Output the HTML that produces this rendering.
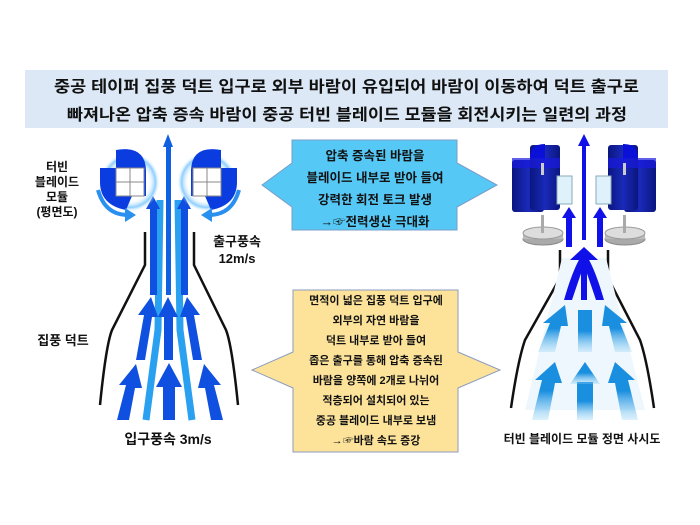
<!DOCTYPE html>
<html><head><meta charset="utf-8"><style>
body{margin:0;background:#fff;width:700px;height:525px;overflow:hidden;font-family:"Liberation Sans","Noto Sans CJK KR",sans-serif;}
svg{position:absolute;left:0;top:0}
text{font-family:"Liberation Sans","Noto Sans CJK KR",sans-serif;font-weight:bold;fill:#111}
</style></head><body>
<svg width="700" height="525" viewBox="0 0 700 525">
<defs>
<linearGradient id="fade" x1="0" y1="1" x2="0" y2="0"><stop offset="0" stop-color="#8fd0f5" stop-opacity="0.3"/><stop offset="0.5" stop-color="#1a8fe0"/><stop offset="1" stop-color="#1a8fe0"/></linearGradient>
<linearGradient id="cyl" x1="0" y1="0" x2="1" y2="0"><stop offset="0" stop-color="#0a1680"/><stop offset="0.5" stop-color="#1a2ab8"/><stop offset="1" stop-color="#0a1680"/></linearGradient>
<radialGradient id="glow"><stop offset="0.6" stop-color="#fff" stop-opacity="0"/><stop offset="0.85" stop-color="#5ab8ff" stop-opacity="0.7"/><stop offset="1" stop-color="#fff" stop-opacity="0"/></radialGradient>
</defs>
<!-- header -->
<rect x="25" y="70" width="643" height="58" fill="#dce8f5"/>
<text x="54" y="92" font-size="16" textLength="585" lengthAdjust="spacingAndGlyphs">중공 테이퍼 집풍 덕트 입구로 외부 바람이 유입되어 바람이 이동하여 덕트 출구로</text>
<text x="67" y="120" font-size="16" textLength="560" lengthAdjust="spacingAndGlyphs">빠져나온 압축 증속 바람이 중공 터빈 블레이드 모듈을 회전시키는 일련의 과정</text>

<!-- LEFT DIAGRAM -->
<g stroke="#111" stroke-width="2.5" fill="none">
<path d="M145 232 V265 L112 330 Q106 345 100 405"/>
<path d="M194 232 V265 L226 330 Q232 345 238 405"/>
</g>
<g>
<path d="M146 420 L158 330 L160 200" stroke="#2aa0f0" stroke-width="7" fill="none"/>
<path d="M192 420 L180 330 L178 200" stroke="#2aa0f0" stroke-width="7" fill="none"/>
<rect x="166" y="145" width="5" height="150" fill="#1060e0"/>
<polygon points="168,134 163,147 173,147" fill="#1060e0"/>
<rect x="150" y="205" width="7" height="90" fill="#1050e0"/><polygon points="153,196 146,209 160,209" fill="#1050e0"/>
<rect x="181" y="205" width="7" height="90" fill="#1050e0"/><polygon points="184,196 177,209 191,209" fill="#1050e0"/>
<polygon points="136,360 144,315 138,315 151,297 158,317 152,317 145,360" fill="#1050e0"/>
<rect x="164" y="315" width="9" height="45" fill="#1050e0"/><polygon points="168,297 158,317 178,317" fill="#1050e0"/>
<polygon points="202,360 194,315 200,315 187,297 180,317 186,317 193,360" fill="#1050e0"/>
<polygon points="117,420 126,385 119,385 136,364 142,388 135,388 129,420" fill="#1050e0"/>
<rect x="163" y="385" width="12" height="35" fill="#1050e0"/><polygon points="169,363 156,387 182,387" fill="#1050e0"/>
<polygon points="223,420 214,385 221,385 204,364 198,388 205,388 211,420" fill="#1050e0"/>
</g>
<!-- left turbines -->
<g>
<circle cx="130" cy="182" r="30" fill="url(#glow)"/>
<path d="M116 150 Q145 145 146 170 L146 196 L132 196 L126 210 Q100 205 100 182 L100 168 L116 168 Z" fill="#0a3ce0"/>
<rect x="116" y="168" width="28" height="28" fill="#fff" stroke="#888"/>
<line x1="130" y1="168" x2="130" y2="196" stroke="#888"/><line x1="116" y1="182" x2="144" y2="182" stroke="#888"/>
<path d="M98 190 Q105 215 128 215" stroke="#2a90f0" stroke-width="4" fill="none"/><polygon points="125,208 136,215 125,222" fill="#2a90f0"/>
<circle cx="207" cy="182" r="30" fill="url(#glow)"/>
<path d="M221 150 Q192 145 191 170 L191 196 L205 196 L211 210 Q237 205 237 182 L237 168 L221 168 Z" fill="#0a3ce0"/>
<rect x="193" y="168" width="28" height="28" fill="#fff" stroke="#888"/>
<line x1="207" y1="168" x2="207" y2="196" stroke="#888"/><line x1="193" y1="182" x2="221" y2="182" stroke="#888"/>
<path d="M239 190 Q232 215 209 215" stroke="#2a90f0" stroke-width="4" fill="none"/><polygon points="212,208 201,215 212,222" fill="#2a90f0"/>
</g>
<text x="57" y="171" font-size="12" text-anchor="middle">터빈</text>
<text x="57" y="186" font-size="12" text-anchor="middle">블레이드</text>
<text x="57" y="201" font-size="12" text-anchor="middle">모듈</text>
<text x="57" y="216" font-size="12" text-anchor="middle">(평면도)</text>
<text x="237" y="246" font-size="13" text-anchor="middle">출구풍속</text>
<text x="237" y="263" font-size="13" text-anchor="middle">12m/s</text>
<text x="63" y="345" font-size="13" text-anchor="middle">집풍 덕트</text>
<text x="168" y="444" font-size="14" text-anchor="middle">입구풍속 3m/s</text>

<!-- blue box -->
<polygon points="262,185 292,163 292,140 457,140 457,163 497,185 457,207 457,230 292,230 292,207" fill="#55c8f5" stroke="#7a9cc8"/>
<text x="375" y="160" font-size="12.5" text-anchor="middle">압축 증속된 바람을</text>
<text x="375" y="182" font-size="12.5" text-anchor="middle">블레이드 내부로 받아 들여</text>
<text x="375" y="204" font-size="12.5" text-anchor="middle">강력한 회전 토크 발생</text>
<text x="375" y="226" font-size="12.5" text-anchor="middle">→☞전력생산 극대화</text>

<!-- yellow box -->
<polygon points="252,370 293,352 293,290 458,290 458,352 500,370 458,388 458,452 293,452 293,388" fill="#fde39a" stroke="#8a9cc0"/>
<text x="376" y="304" font-size="11" text-anchor="middle">면적이 넓은 집풍 덕트 입구에</text>
<text x="376" y="324" font-size="11" text-anchor="middle">외부의 자연 바람을</text>
<text x="376" y="344" font-size="11" text-anchor="middle">덕트 내부로 받아 들여</text>
<text x="376" y="364" font-size="11" text-anchor="middle">좁은 출구를 통해 압축 증속된</text>
<text x="376" y="384" font-size="11" text-anchor="middle">바람을 양쪽에 2개로 나뉘어</text>
<text x="376" y="404" font-size="11" text-anchor="middle">적층되어 설치되어 있는</text>
<text x="376" y="424" font-size="11" text-anchor="middle">중공 블레이드 내부로 보냄</text>
<text x="376" y="444" font-size="11" text-anchor="middle">→☞바람 속도 증강</text>

<!-- RIGHT DIAGRAM -->
<g stroke="#111" stroke-width="2.5" fill="none">
<path d="M560 250 V278 L525 340 Q518 360 511 408"/>
<path d="M608 250 V278 L640 340 Q647 360 654 408"/>
</g>
<polygon points="562,258 606,258 645,410 525,410" fill="#eef7fd"/>
<g fill="url(#fade)">
<polygon points="532,420 542,380 535,380 555,362 562,383 555,383 548,420"/>
<rect x="577" y="382" width="16" height="38"/><polygon points="585,362 570,384 600,384"/>
<polygon points="638,420 628,380 635,380 615,362 608,383 615,383 622,420"/>
<polygon points="538,352 550,323 543,323 565,305 568,326 561,326 555,352"/>
<rect x="578" y="310" width="14" height="42"/>
<polygon points="632,352 620,323 627,323 605,305 602,326 609,326 615,352"/>
</g>
<g fill="#1010e8">
<path d="M564 300 Q572 272 580 258 L585 262 Q578 282 572 300 Z"/>
<path d="M604 300 Q596 272 588 258 L583 262 Q590 282 596 300 Z"/>
<rect x="581" y="258" width="6" height="42"/>
<polygon points="584,247 570,260 598,260"/>
<rect x="582" y="145" width="4" height="95"/><polygon points="584,134 578,146 590,146"/>
<rect x="566" y="215" width="6" height="32"/><polygon points="569,207 562,218 576,218"/>
<rect x="597" y="215" width="6" height="32"/><polygon points="600,207 593,218 607,218"/>
</g>
<!-- right turbines -->
<g>
<ellipse cx="543" cy="239" rx="20" ry="6" fill="#aaa" stroke="#888"/><rect x="523" y="233" width="40" height="6" fill="#bbb"/><ellipse cx="543" cy="233" rx="20" ry="6" fill="#ddd" stroke="#999"/>
<rect x="541" y="215" width="3" height="18" fill="#aaa"/>
<rect x="512" y="160" width="32" height="52" rx="3" fill="url(#cyl)"/>
<rect x="530" y="145" width="30" height="65" rx="3" fill="url(#cyl)"/>
<path d="M530 158 Q530 144 545 144 L545 160 Z" fill="#0a10d8"/>
<rect x="512" y="158" width="48" height="10" fill="#1a1ae0" opacity="0.7"/>
<rect x="557" y="176" width="15" height="28" fill="#dff1fa" stroke="#8ab"/>
<rect x="541" y="163" width="3" height="12" fill="#ccc"/>
<ellipse cx="625" cy="239" rx="20" ry="6" fill="#aaa" stroke="#888"/><rect x="605" y="233" width="40" height="6" fill="#bbb"/><ellipse cx="625" cy="233" rx="20" ry="6" fill="#ddd" stroke="#999"/>
<rect x="623" y="215" width="3" height="18" fill="#aaa"/>
<rect x="624" y="160" width="32" height="52" rx="3" fill="url(#cyl)"/>
<rect x="608" y="145" width="30" height="65" rx="3" fill="url(#cyl)"/>
<path d="M638 158 Q638 144 623 144 L623 160 Z" fill="#0a10d8"/>
<rect x="608" y="158" width="48" height="10" fill="#1a1ae0" opacity="0.7"/>
<rect x="596" y="176" width="15" height="28" fill="#dff1fa" stroke="#8ab"/>
<rect x="623" y="163" width="3" height="12" fill="#ccc"/>
</g>
<text x="582" y="443" font-size="12" text-anchor="middle">터빈 블레이드 모듈 정면 사시도</text>
</svg>
</body></html>
